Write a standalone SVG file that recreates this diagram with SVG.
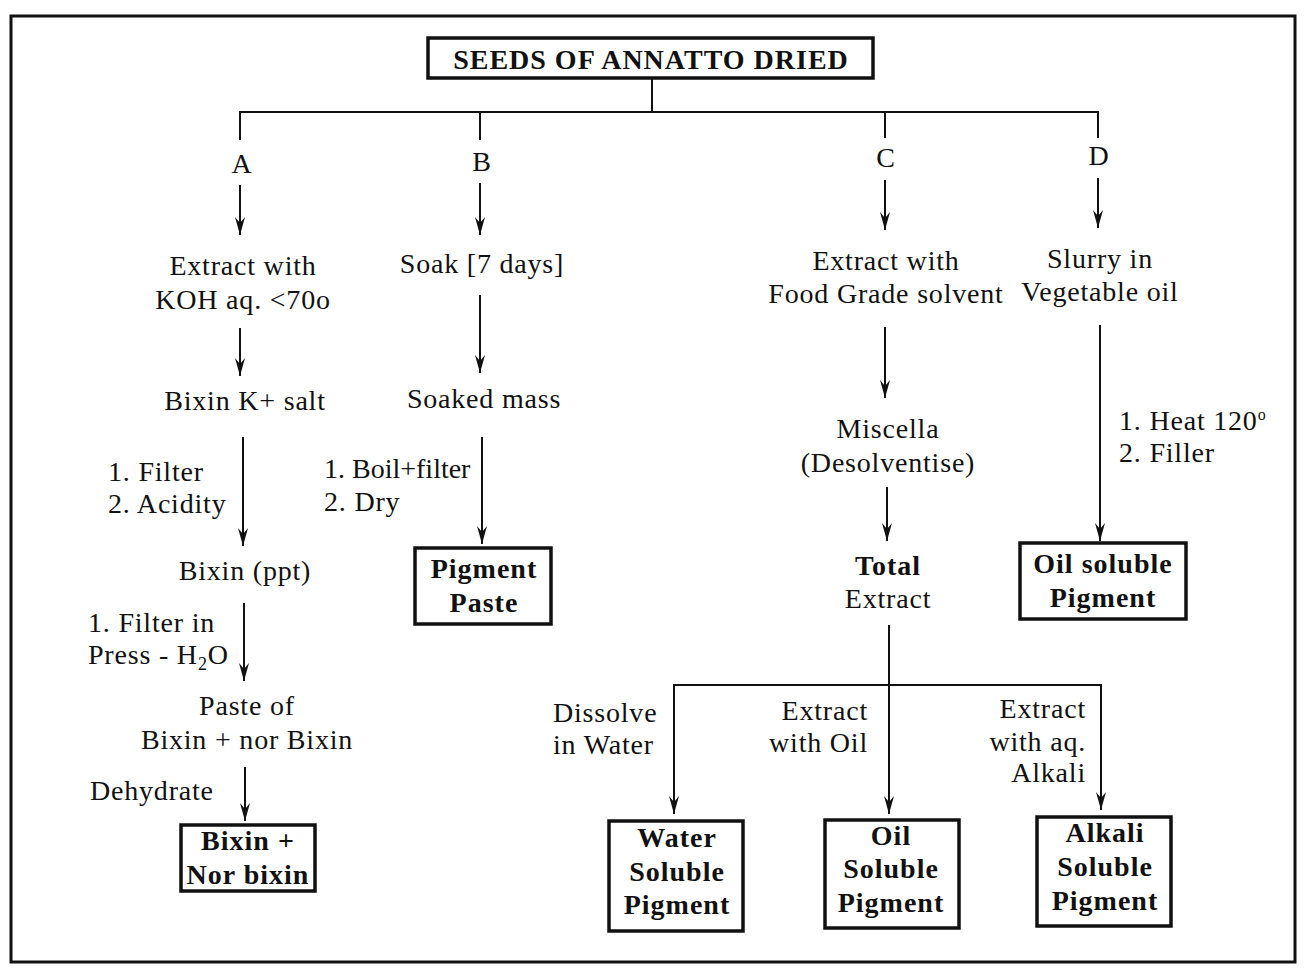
<svg xmlns="http://www.w3.org/2000/svg" width="1306" height="968" viewBox="0 0 1306 968">
<defs>
<marker id="ah" viewBox="0 0 18 10" refX="18" refY="5" markerWidth="18" markerHeight="10" markerUnits="userSpaceOnUse" orient="auto">
<path d="M0,0 L18,5 L0,10 L6,5 Z" fill="#111"/>
</marker>
<style>
text{font-family:"Liberation Serif","DejaVu Serif",serif;font-size:28px;letter-spacing:0.8px;fill:#111}
.c{text-anchor:middle}
.r{text-anchor:end}
.b{font-weight:bold;font-size:28px;letter-spacing:1px}
.box{fill:#fff;stroke:#111;stroke-width:3.5}
.ln{fill:none;stroke:#111;stroke-width:2}
.ar{fill:none;stroke:#111;stroke-width:2;marker-end:url(#ah)}
</style>
</defs>
<rect width="1306" height="968" fill="#fff"/>
<rect x="11" y="16" width="1284" height="946" fill="none" stroke="#111" stroke-width="3"/>

<g id="connectors">
<polyline class="ln" points="652,78 652,112"/>
<polyline class="ln" points="240,140 240,112 1098,112 1098,138"/>
<line class="ln" x1="480" y1="112" x2="480" y2="140"/>
<line class="ln" x1="885" y1="112" x2="885" y2="138"/>
<line class="ar" x1="240" y1="185" x2="240" y2="235"/>
<line class="ar" x1="480" y1="183" x2="480" y2="235"/>
<line class="ar" x1="885" y1="180" x2="885" y2="230"/>
<line class="ar" x1="1098" y1="178" x2="1098" y2="228"/>
<line class="ar" x1="240" y1="328" x2="240" y2="376"/>
<line class="ar" x1="243" y1="437" x2="243" y2="546"/>
<line class="ar" x1="244" y1="603" x2="244" y2="681"/>
<line class="ar" x1="245" y1="767" x2="245" y2="821"/>
<line class="ar" x1="480" y1="295" x2="480" y2="373"/>
<line class="ar" x1="482" y1="437" x2="482" y2="544"/>
<line class="ar" x1="885" y1="327" x2="885" y2="398"/>
<line class="ar" x1="887" y1="487" x2="887" y2="541"/>
<line class="ar" x1="1100" y1="325" x2="1100" y2="541"/>
<line class="ar" x1="889" y1="625" x2="889" y2="814"/>
<polyline class="ln" points="674,700 674,685 1101,685 1101,700"/>
<line class="ar" x1="674" y1="699" x2="674" y2="814"/>
<line class="ar" x1="1101" y1="699" x2="1101" y2="810"/>
</g>

<g id="n-seeds">
<rect class="box" x="428" y="38" width="445" height="40" stroke-width="2.5"/>
<text class="c b" x="651" y="69">SEEDS OF ANNATTO DRIED</text>
</g>
<g id="n-A"><text class="c" x="242" y="173">A</text></g>
<g id="n-B"><text class="c" x="482" y="171">B</text></g>
<g id="n-C"><text class="c" x="886" y="167">C</text></g>
<g id="n-D"><text class="c" x="1099" y="165">D</text></g>

<g id="n-koh"><text class="c" x="243" y="275">Extract with</text><text class="c" x="243" y="309">KOH aq. &lt;70o</text></g>
<g id="n-bixink"><text class="c" x="245" y="410">Bixin K+ salt</text></g>
<g id="l-filter1"><text x="108" y="481">1. Filter</text><text x="108" y="513">2. Acidity</text></g>
<g id="n-bixinppt"><text class="c" x="245" y="580">Bixin (ppt)</text></g>
<g id="l-filter2"><text x="88" y="632">1. Filter in</text><text x="88" y="664">Press - H<tspan font-size="18" dy="6">2</tspan><tspan dy="-6">O</tspan></text></g>
<g id="n-paste"><text class="c" x="247" y="715">Paste of</text><text class="c" x="247" y="749">Bixin + nor Bixin</text></g>
<g id="l-dehydrate"><text x="90" y="800">Dehydrate</text></g>
<g id="n-bixinnor">
<rect class="box" x="181" y="825" width="134" height="66"/>
<text class="c b" x="248" y="850">Bixin +</text><text class="c b" x="248" y="884">Nor bixin</text>
</g>

<g id="n-soak"><text class="c" x="482" y="273">Soak [7 days]</text></g>
<g id="n-soaked"><text class="c" x="484" y="408">Soaked mass</text></g>
<g id="l-boil"><text x="324" y="478" style="letter-spacing:0">1. Boil+filter</text><text x="324" y="511">2. Dry</text></g>
<g id="n-pigpaste">
<rect class="box" x="415" y="548" width="136" height="76"/>
<text class="c b" x="484" y="578">Pigment</text><text class="c b" x="484" y="612">Paste</text>
</g>

<g id="n-food"><text class="c" x="886" y="270">Extract with</text><text class="c" x="886" y="303">Food Grade solvent</text></g>
<g id="n-miscella"><text class="c" x="888" y="438">Miscella</text><text class="c" x="888" y="472">(Desolventise)</text></g>
<g id="n-total"><text class="c b" x="888" y="575">Total</text><text class="c" x="888" y="608">Extract</text></g>
<g id="l-water"><text x="553" y="722">Dissolve</text><text x="553" y="754">in Water</text></g>
<g id="l-oil"><text class="r" x="868" y="720">Extract</text><text class="r" x="868" y="752">with Oil</text></g>
<g id="l-alkali"><text class="r" x="1086" y="718">Extract</text><text class="r" x="1086" y="751">with aq.</text><text class="r" x="1086" y="782">Alkali</text></g>
<g id="n-watersol">
<rect class="box" x="609" y="821" width="134" height="110"/>
<text class="c b" x="677" y="847">Water</text><text class="c b" x="677" y="881">Soluble</text><text class="c b" x="677" y="914">Pigment</text>
</g>
<g id="n-oilsol">
<rect class="box" x="825" y="820" width="134" height="108"/>
<text class="c b" x="891" y="845">Oil</text><text class="c b" x="891" y="878">Soluble</text><text class="c b" x="891" y="912">Pigment</text>
</g>
<g id="n-alkalisol">
<rect class="box" x="1037" y="817" width="134" height="109"/>
<text class="c b" x="1105" y="842">Alkali</text><text class="c b" x="1105" y="876">Soluble</text><text class="c b" x="1105" y="910">Pigment</text>
</g>

<g id="n-slurry"><text class="c" x="1100" y="268">Slurry in</text><text class="c" x="1100" y="301">Vegetable oil</text></g>
<g id="l-heat"><text x="1119" y="430">1. Heat 120<tspan font-size="16" dy="-10">o</tspan></text><text x="1119" y="462">2. Filler</text></g>
<g id="n-oilsol2">
<rect class="box" x="1020" y="543" width="166" height="76"/>
<text class="c b" x="1103" y="573">Oil soluble</text><text class="c b" x="1103" y="607">Pigment</text>
</g>
</svg>
